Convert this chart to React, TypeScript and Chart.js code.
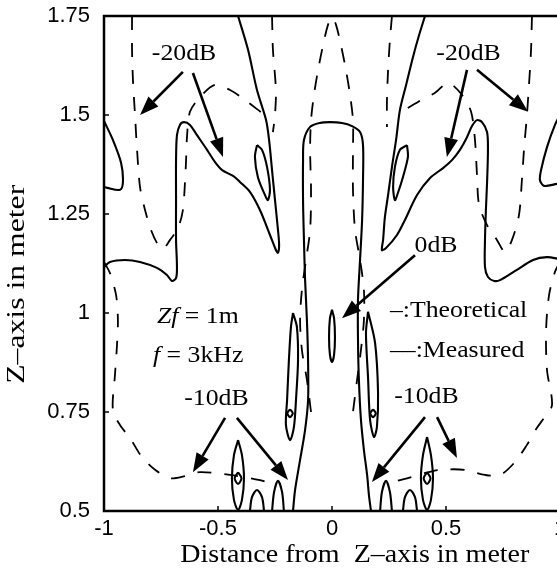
import React, { useEffect, useRef } from "react";
import { Chart, registerables } from "chart.js";

Chart.register(...registerables);

type P = [number, number];

// ---- axes ----
const xTicks = [-1, -0.5, 0, 0.5, 1];
const yTicks = [0.5, 0.75, 1, 1.25, 1.5, 1.75];
const xTitle = "Distance from  Z\u2013axis in meter";
const yTitle = "Z\u2013axis in meter";

// ---- Theoretical contours (solid), [x m, z m] ----
const thLeftEdgeLoop: P[] = [[-1.0, 1.485], [-0.961, 1.437], [-0.925, 1.379], [-0.917, 1.331], [-0.93, 1.311], [-0.987, 1.316], [-1.0, 1.318]];
const thRightEdgeLoop: P[] = [[1.0, 1.5], [0.978, 1.475], [0.943, 1.419], [0.917, 1.361], [0.912, 1.336], [0.93, 1.321], [0.987, 1.326], [1.0, 1.326]];
const thLeftLobe: P[] = [
  [-1.0, 1.116], [-0.974, 1.129], [-0.908, 1.134], [-0.842, 1.129], [-0.768, 1.114], [-0.724, 1.096], [-0.702, 1.081],
  [-0.684, 1.088], [-0.68, 1.116], [-0.684, 1.184], [-0.684, 1.285], [-0.684, 1.386], [-0.68, 1.449], [-0.667, 1.475],
  [-0.649, 1.482], [-0.623, 1.475], [-0.592, 1.449], [-0.548, 1.412], [-0.513, 1.381], [-0.482, 1.361], [-0.434, 1.346],
  [-0.404, 1.331], [-0.36, 1.306], [-0.316, 1.26], [-0.272, 1.197], [-0.246, 1.159], [-0.237, 1.152], [-0.232, 1.172],
  [-0.237, 1.21], [-0.25, 1.285], [-0.263, 1.361], [-0.276, 1.437], [-0.289, 1.487], [-0.329, 1.563], [-0.368, 1.664], [-0.412, 1.75],
];
const thRightLobe: P[] = [
  [0.408, 1.75], [0.382, 1.702], [0.355, 1.646], [0.325, 1.576], [0.298, 1.513], [0.281, 1.437], [0.263, 1.369], [0.246, 1.298],
  [0.232, 1.242], [0.224, 1.184], [0.219, 1.159], [0.237, 1.164], [0.285, 1.197], [0.32, 1.235], [0.373, 1.298], [0.43, 1.341],
  [0.487, 1.366], [0.526, 1.386], [0.561, 1.412], [0.592, 1.444], [0.614, 1.472], [0.636, 1.487], [0.658, 1.482], [0.68, 1.457],
  [0.684, 1.412], [0.68, 1.328], [0.675, 1.26], [0.671, 1.184], [0.671, 1.116], [0.684, 1.091], [0.711, 1.081], [0.737, 1.083],
  [0.811, 1.109], [0.882, 1.134], [0.943, 1.141], [1.0, 1.136],
];
const thLeftIsland: P[] = [[-0.329, 1.424], [-0.338, 1.394], [-0.325, 1.343], [-0.294, 1.298], [-0.281, 1.285], [-0.272, 1.311], [-0.285, 1.369], [-0.307, 1.412], [-0.329, 1.424]];
const thRightIsland: P[] = [[0.329, 1.424], [0.333, 1.394], [0.311, 1.343], [0.289, 1.303], [0.276, 1.285], [0.268, 1.318], [0.276, 1.369], [0.298, 1.412], [0.329, 1.424]];
const thCenterFinger: P[] = [
  [-0.171, 0.5], [-0.162, 0.553], [-0.14, 0.629], [-0.118, 0.705], [-0.105, 0.78], [-0.105, 0.881], [-0.11, 0.982], [-0.118, 1.083],
  [-0.123, 1.184], [-0.127, 1.285], [-0.127, 1.386], [-0.123, 1.437], [-0.096, 1.47], [-0.053, 1.48], [-0.009, 1.482], [0.044, 1.48],
  [0.088, 1.472], [0.123, 1.457], [0.136, 1.424], [0.136, 1.336], [0.132, 1.235], [0.123, 1.134], [0.114, 1.033], [0.114, 0.932],
  [0.118, 0.831], [0.127, 0.73], [0.14, 0.654], [0.154, 0.591], [0.162, 0.54], [0.171, 0.5],
];
const thCenterIsland: P[] = [[0, 1.008], [0.009, 0.987], [0.013, 0.939], [0.009, 0.894], [0, 0.876], [-0.009, 0.894], [-0.013, 0.939], [-0.009, 0.987], [0, 1.008]];
const thLeftNarrow: P[] = [[-0.171, 1.0], [-0.154, 0.965], [-0.149, 0.881], [-0.158, 0.78], [-0.167, 0.712], [-0.184, 0.679], [-0.202, 0.717], [-0.197, 0.78], [-0.189, 0.881], [-0.18, 0.965], [-0.171, 1.0]];
const thLeftNarrowDot: P[] = [[-0.184, 0.757], [-0.172, 0.747], [-0.184, 0.737], [-0.196, 0.747], [-0.184, 0.757]];
const thRightNarrow: P[] = [[0.158, 1.003], [0.189, 0.924], [0.202, 0.798], [0.197, 0.712], [0.184, 0.687], [0.167, 0.73], [0.158, 0.838], [0.149, 0.949], [0.158, 1.003]];
const thRightNarrowDot: P[] = [[0.18, 0.757], [0.192, 0.747], [0.18, 0.737], [0.168, 0.747], [0.18, 0.757]];
const thLeftTall: P[] = [[-0.412, 0.679], [-0.395, 0.641], [-0.386, 0.583], [-0.395, 0.528], [-0.412, 0.503], [-0.43, 0.528], [-0.439, 0.583], [-0.43, 0.641], [-0.412, 0.679]];
const thLeftTallDot: P[] = [[-0.412, 0.598], [-0.397, 0.583], [-0.412, 0.568], [-0.427, 0.583], [-0.412, 0.598]];
const thRightTall: P[] = [[0.417, 0.687], [0.434, 0.641], [0.443, 0.583], [0.434, 0.528], [0.417, 0.503], [0.399, 0.528], [0.39, 0.583], [0.399, 0.641], [0.417, 0.687]];
const thRightTallDot: P[] = [[0.417, 0.598], [0.432, 0.583], [0.417, 0.568], [0.402, 0.583], [0.417, 0.598]];
const thArchA: P[] = [[-0.36, 0.5], [-0.351, 0.535], [-0.329, 0.553], [-0.307, 0.535], [-0.298, 0.5]];
const thArchB: P[] = [[-0.263, 0.5], [-0.254, 0.548], [-0.237, 0.576], [-0.219, 0.548], [-0.211, 0.5]];
const thArchC: P[] = [[0.211, 0.5], [0.219, 0.548], [0.237, 0.576], [0.254, 0.548], [0.263, 0.5]];
const thArchD: P[] = [[0.311, 0.5], [0.32, 0.535], [0.342, 0.553], [0.364, 0.535], [0.373, 0.5]];

// ---- Measured contours (dashed) ----
const msLeftOuter20: P[] = [
  [-0.877, 1.75], [-0.877, 1.664], [-0.873, 1.588], [-0.864, 1.5], [-0.855, 1.412], [-0.842, 1.318], [-0.82, 1.26], [-0.794, 1.21],
  [-0.763, 1.172], [-0.741, 1.162], [-0.711, 1.184], [-0.675, 1.215], [-0.654, 1.26], [-0.645, 1.328], [-0.64, 1.386], [-0.636, 1.444],
  [-0.623, 1.508], [-0.579, 1.545], [-0.513, 1.576], [-0.447, 1.563], [-0.382, 1.538], [-0.307, 1.505],
];
const msLeftInner20: P[] = [[-0.263, 1.75], [-0.259, 1.664], [-0.246, 1.563], [-0.25, 1.5], [-0.259, 1.457]];
const msRightOuter20: P[] = [
  [0.877, 1.75], [0.873, 1.664], [0.864, 1.576], [0.855, 1.5], [0.842, 1.412], [0.833, 1.336], [0.82, 1.247], [0.789, 1.184],
  [0.759, 1.154], [0.724, 1.184], [0.68, 1.222], [0.645, 1.273], [0.636, 1.348], [0.627, 1.437], [0.61, 1.508], [0.57, 1.551],
  [0.509, 1.581], [0.452, 1.556], [0.377, 1.533], [0.32, 1.513],
];
const msRightInner20: P[] = [[0.263, 1.75], [0.254, 1.689], [0.246, 1.614], [0.241, 1.538], [0.241, 1.47]];
const msLeftOuter10: P[] = [
  [-1.0, 1.129], [-0.974, 1.101], [-0.947, 1.045], [-0.939, 0.982], [-0.943, 0.919], [-0.952, 0.843], [-0.961, 0.755], [-0.93, 0.717],
  [-0.886, 0.684], [-0.833, 0.636], [-0.776, 0.604], [-0.711, 0.583], [-0.645, 0.588], [-0.579, 0.598], [-0.447, 0.591], [-0.316, 0.578], [-0.263, 0.568],
];
const msRightOuter10: P[] = [
  [1.0, 1.129], [0.978, 1.104], [0.952, 1.045], [0.939, 0.957], [0.943, 0.856], [0.965, 0.768], [0.93, 0.735], [0.899, 0.71],
  [0.855, 0.667], [0.803, 0.624], [0.737, 0.591], [0.671, 0.591], [0.583, 0.604], [0.474, 0.604], [0.408, 0.596], [0.333, 0.583], [0.263, 0.573],
];
const msCenter0: P[] = [
  [-0.092, 0.75], [-0.11, 0.831], [-0.132, 0.907], [-0.14, 0.982], [-0.132, 1.058], [-0.114, 1.134], [-0.096, 1.21], [-0.092, 1.311],
  [-0.096, 1.412], [-0.092, 1.487], [-0.079, 1.551], [-0.061, 1.614], [-0.039, 1.677], [-0.018, 1.727], [0, 1.747], [0.018, 1.727],
  [0.039, 1.677], [0.061, 1.614], [0.079, 1.551], [0.092, 1.487], [0.092, 1.412], [0.092, 1.311], [0.101, 1.21], [0.123, 1.134],
  [0.14, 1.058], [0.14, 0.982], [0.127, 0.907], [0.11, 0.831], [0.092, 0.75],
];

const theoretical: P[][] = [
  thLeftEdgeLoop, thRightEdgeLoop, thLeftLobe, thRightLobe, thLeftIsland, thRightIsland, thCenterFinger, thCenterIsland,
  thLeftNarrow, thLeftNarrowDot, thRightNarrow, thRightNarrowDot, thLeftTall, thLeftTallDot, thRightTall, thRightTallDot,
  thArchA, thArchB, thArchC, thArchD,
];
const measured: P[][] = [msLeftOuter20, msLeftInner20, msRightOuter20, msRightInner20, msLeftOuter10, msRightOuter10, msCenter0];

// ---- annotations (data units) ----
const levelLabels: [string, number, number][] = [
  ["-20dB", -0.649, 1.655],
  ["-20dB", 0.599, 1.655],
  ["0dB", 0.456, 1.169],
  ["-10dB", -0.507, 0.783],
  ["-10dB", 0.414, 0.787],
];
// [tailX, tailY, headX, headY]
const arrows: [number, number, number, number][] = [
  [-0.654, 1.609, -0.842, 1.5],
  [-0.61, 1.606, -0.478, 1.394],
  [0.592, 1.614, 0.504, 1.394],
  [0.636, 1.614, 0.86, 1.508],
  [0.364, 1.146, 0.044, 0.987],
  [-0.469, 0.735, -0.61, 0.598],
  [-0.417, 0.735, -0.193, 0.578],
  [0.408, 0.737, 0.175, 0.573],
  [0.461, 0.737, 0.548, 0.634],
];
// note runs: [text, italic]
const noteZf: [string, boolean][] = [["Z", true], ["f", true], [" = 1m", false]];
const noteF: [string, boolean][] = [["f", true], [" = 3kHz", false]];
const noteTheo = "\u2013:Theoretical";
const noteMeas = "\u2013\u2013:Measured";
const notePos: [number, number][] = [[-0.768, 0.99], [-0.785, 0.891], [0.254, 1.005], [0.254, 0.904]];

const SERIF = '"Liberation Serif", "Times New Roman", serif';
const SX = 1.12;

function runs(ctx: CanvasRenderingContext2D, parts: [string, boolean][], x: number, y: number, size: number) {
  let cx = x;
  for (const [t, it] of parts) {
    ctx.save();
    ctx.font = `${it ? "italic " : ""}${size}px ${SERIF}`;
    ctx.textAlign = "left";
    ctx.textBaseline = "middle";
    ctx.translate(cx, y);
    ctx.scale(SX, 1);
    ctx.fillText(t, 0, 0);
    const w = ctx.measureText(t).width * SX;
    ctx.restore();
    cx += w;
  }
}

function text(ctx: CanvasRenderingContext2D, t: string, x: number, y: number, size: number, align: CanvasTextAlign, rot = 0, sx = SX) {
  ctx.save();
  ctx.font = `${size}px ${SERIF}`;
  ctx.textAlign = align;
  ctx.textBaseline = "middle";
  ctx.translate(x, y);
  ctx.rotate(rot);
  ctx.scale(sx, 1);
  ctx.fillText(t, 0, 0);
  ctx.restore();
}

const overlay = {
  id: "overlay",
  afterDatasetsDraw(chart: any) {
    const { ctx, chartArea: a, scales } = chart;
    const xs = scales.x;
    const ys = scales.y;
    ctx.save();
    ctx.fillStyle = "#000";
    ctx.strokeStyle = "#000";
    // frame
    ctx.lineWidth = 2.5;
    ctx.strokeRect(a.left, a.top, a.right - a.left, a.bottom - a.top);
    // inward ticks
    ctx.lineWidth = 1.5;
    for (const v of yTicks) {
      const py = ys.getPixelForValue(v);
      ctx.beginPath();
      ctx.moveTo(a.left, py);
      ctx.lineTo(a.left + 5, py);
      ctx.stroke();
    }
    for (const v of xTicks) {
      const px = xs.getPixelForValue(v);
      ctx.beginPath();
      ctx.moveTo(px, a.bottom);
      ctx.lineTo(px, a.bottom - 5);
      ctx.stroke();
    }
    // arrows
    for (const [tx, ty, hx, hy] of arrows) {
      const x1 = xs.getPixelForValue(tx), y1 = ys.getPixelForValue(ty);
      const x2 = xs.getPixelForValue(hx), y2 = ys.getPixelForValue(hy);
      const ang = Math.atan2(y2 - y1, x2 - x1);
      const L = 19, W = 7;
      const bx = x2 - L * Math.cos(ang), by = y2 - L * Math.sin(ang);
      ctx.lineWidth = 2.6;
      ctx.beginPath();
      ctx.moveTo(x1, y1);
      ctx.lineTo(bx, by);
      ctx.stroke();
      ctx.beginPath();
      ctx.moveTo(x2, y2);
      ctx.lineTo(bx + W * Math.sin(ang), by - W * Math.cos(ang));
      ctx.lineTo(bx - W * Math.sin(ang), by + W * Math.cos(ang));
      ctx.closePath();
      ctx.fill();
    }
    // level labels
    for (const [t, vx, vy] of levelLabels) {
      text(ctx, t, xs.getPixelForValue(vx), ys.getPixelForValue(vy), 23, "center");
    }
    // notes
    runs(ctx, noteZf, xs.getPixelForValue(notePos[0][0]), ys.getPixelForValue(notePos[0][1]), 23);
    runs(ctx, noteF, xs.getPixelForValue(notePos[1][0]), ys.getPixelForValue(notePos[1][1]), 23);
    text(ctx, noteTheo, xs.getPixelForValue(notePos[2][0]), ys.getPixelForValue(notePos[2][1]), 23, "left");
    text(ctx, noteMeas, xs.getPixelForValue(notePos[3][0]), ys.getPixelForValue(notePos[3][1]), 23, "left");
    // axis titles
    const h = a.bottom - a.top;
    const w = a.right - a.left;
    text(ctx, xTitle, a.left + 0.55 * w, a.bottom + 44, 25, "center");
    text(ctx, yTitle, 17, a.top + 0.542 * h, 26, "center", -Math.PI / 2, 1.22);
    ctx.restore();
  },
};

export default function App() {
  const ref = useRef<HTMLCanvasElement>(null);
  useEffect(() => {
    if (!ref.current) return;
    const toPts = (c: P[]) => c.map(([x, y]) => ({ x, y }));
    const datasets: any[] = [
      ...theoretical.map((c) => ({
        data: toPts(c), showLine: true, borderColor: "#000", borderWidth: 2.1, pointRadius: 0, tension: 0.3, fill: false,
      })),
      ...measured.map((c) => ({
        data: toPts(c), showLine: true, borderColor: "#000", borderWidth: 1.8, borderDash: [14, 13], pointRadius: 0, tension: 0.3, fill: false,
      })),
    ];
    const chart = new Chart(ref.current, {
      type: "scatter",
      data: { datasets },
      plugins: [overlay],
      options: {
        animation: false,
        responsive: false,
        devicePixelRatio: 1,
        events: [],
        layout: { padding: { top: 16, right: 20, left: 0, bottom: 0 } },
        plugins: { legend: { display: false }, tooltip: { enabled: false } },
        scales: {
          x: {
            type: "linear",
            min: -1,
            max: 1,
            grid: { display: false, drawTicks: false },
            border: { display: false },
            afterBuildTicks: (s: any) => { s.ticks = xTicks.map((v) => ({ value: v })); },
            afterFit: (s: any) => { s.height = 71; s.paddingLeft = 0; s.paddingRight = 0; },
            ticks: {
              padding: 5,
              color: "#000",
              font: { family: '"Liberation Sans", Arial, sans-serif', size: 22 },
              callback: (v: any) => String(v),
            },
          },
          y: {
            type: "linear",
            min: 0.5,
            max: 1.75,
            grid: { display: false, drawTicks: false },
            border: { display: false },
            afterBuildTicks: (s: any) => { s.ticks = yTicks.map((v) => ({ value: v })); },
            afterFit: (s: any) => { s.width = 104; s.paddingTop = 0; s.paddingBottom = 0; },
            ticks: {
              padding: 14,
              color: "#000",
              font: { family: '"Liberation Sans", Arial, sans-serif', size: 22 },
              callback: (v: any) => String(v),
            },
          },
        },
      },
    });
    return () => chart.destroy();
  }, []);
  return (
    <div style={{ position: "fixed", left: 0, top: 0, width: 580, height: 582, background: "#fff", overflow: "hidden" }}>
      <canvas ref={ref} width={580} height={582} style={{ display: "block", width: 580, height: 582 }} />
    </div>
  );
}
